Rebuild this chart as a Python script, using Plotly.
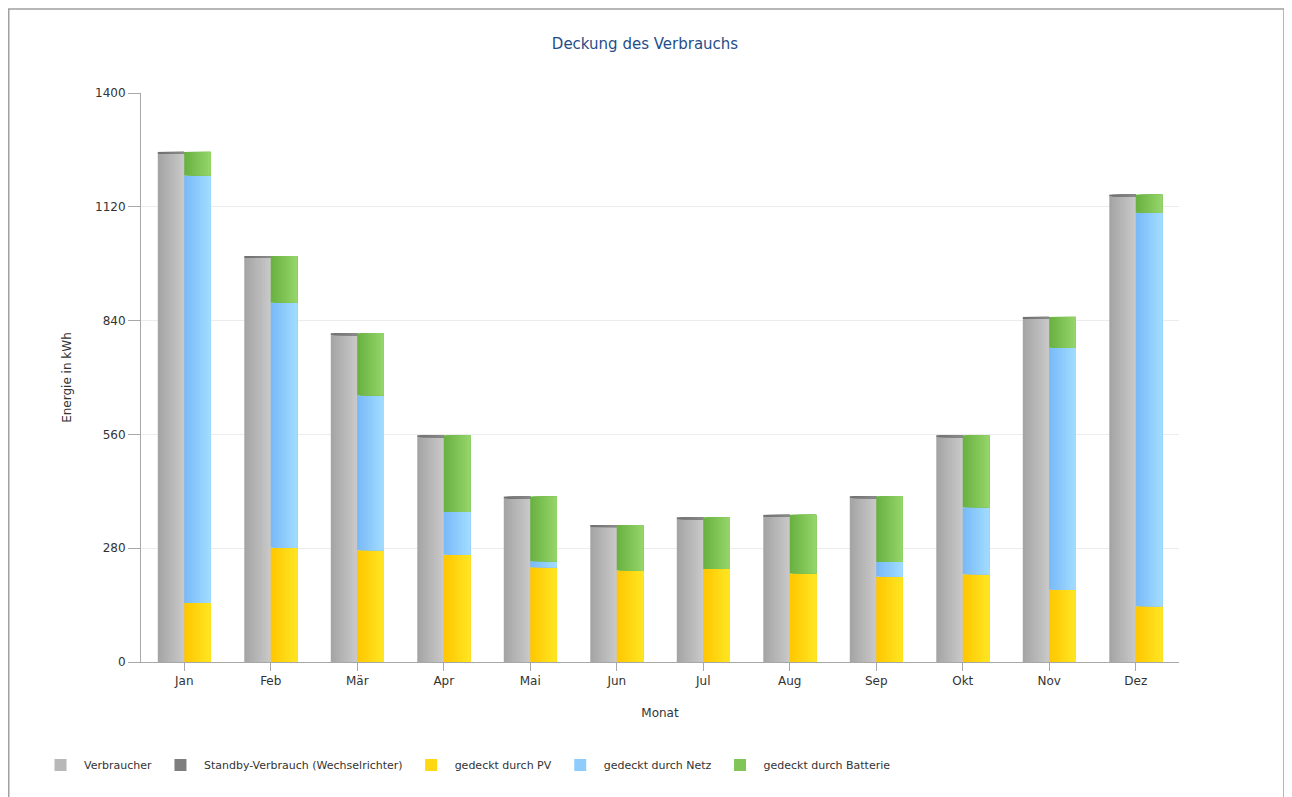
import plotly.graph_objects as go

months = ["Jan", "Feb", "Mär", "Apr", "Mai", "Jun", "Jul", "Aug", "Sep", "Okt", "Nov", "Dez"]
verbraucher = [1250, 994, 804, 553, 402, 332, 351, 357, 403, 553, 844, 1145]
standby = [5, 5, 5, 5, 5, 5, 5, 5, 5, 5, 5, 5]
pv = [145, 281, 275, 264, 233, 225, 229, 218, 210, 216, 178, 137]
netz = [1052, 603, 381, 105, 15, 0, 0, 0, 36, 165, 595, 968]
batterie = [58, 115, 153, 189, 159, 112, 127, 144, 162, 177, 76, 45]
y_ticks = [0, 280, 560, 840, 1120, 1400]

# page body adds an 8px offset, so the figure is laid out 8px up/left
OFF = 8
W, H = 1292 - OFF, 797 - OFF
L, T = 141 - OFF, 93 - OFF
R = W - (1179 - OFF)
B = H - (662 - OFF)
PW, PH = W - L - R, H - T - B
BAR_W = 0.306
N_STRIPS = 10


def mix(c1, c2, t):
    a = [int(c1[i:i + 2], 16) for i in (1, 3, 5)]
    b = [int(c2[i:i + 2], 16) for i in (1, 3, 5)]
    return "rgb(%d,%d,%d)" % tuple(round(a[k] + (b[k] - a[k]) * t) for k in range(3))


fig = go.Figure()

base_zero = [0] * len(months)
base_standby = verbraucher
base_netz = pv
base_batt = [p + n for p, n in zip(pv, netz)]

series = [
    # name, values, base, left offset, colour left, colour right, rank
    ("Verbraucher", verbraucher, base_zero, -BAR_W, "#a3a3a3", "#cacaca", 1),
    ("Standby-Verbrauch (Wechselrichter)", standby, base_standby, -BAR_W, "#6e6e6e", "#8c8c8c", 2),
    ("gedeckt durch PV", pv, base_zero, 0.0, "#ffc600", "#ffe623", 3),
    ("gedeckt durch Netz", netz, base_netz, 0.0, "#78b8f8", "#a2ddff", 4),
    ("gedeckt durch Batterie", batterie, base_batt, 0.0, "#68b040", "#96d66a", 5),
]

for name, vals, base, off0, c1, c2, rank in series:
    step = BAR_W / N_STRIPS
    for k in range(N_STRIPS):
        t = (k + 0.5) / N_STRIPS
        fig.add_trace(go.Bar(
            x=months,
            y=vals,
            base=base,
            offset=off0 + k * step,
            width=BAR_W - k * step,
            marker=dict(color=mix(c1, c2, t), line=dict(width=0)),
            name=name,
            legendgroup=name,
            showlegend=(k == N_STRIPS // 2),
            legendrank=rank,
            hoverinfo="skip" if k != 0 else "x+y+name",
        ))

axis_font = dict(family="DejaVu Sans", size=12, color="#333333")

fig.update_layout(
    width=W,
    height=H,
    barmode="overlay",
    plot_bgcolor="white",
    paper_bgcolor="white",
    margin=dict(l=L, r=R, t=T, b=B, autoexpand=False),
    font=dict(family="DejaVu Sans", size=12, color="#333333"),
    title=dict(
        text="Deckung des Verbrauchs",
        x=(645 - OFF) / W, xanchor="center", xref="container",
        y=1 - (44 - OFF) / H, yanchor="middle", yref="container",
        font=dict(family="DejaVu Sans", size=15, color="#1f4e89"),
    ),
    xaxis=dict(
        type="category",
        categoryorder="array",
        categoryarray=months,
        range=[-0.5, len(months) - 0.5],
        showline=True, linecolor="#a8a8a8", linewidth=1,
        ticks="outside", ticklen=8, tickcolor="#a8a8a8",
        tickfont=axis_font,
        showgrid=False,
        title=dict(text="Monat", font=axis_font, standoff=21),
    ),
    yaxis=dict(
        range=[0, 1400],
        tickvals=y_ticks,
        showline=True, linecolor="#a8a8a8", linewidth=1,
        ticks="outside", ticklen=12, tickcolor="#a8a8a8",
        tickfont=axis_font,
        showgrid=True, gridcolor="#ececec", gridwidth=1,
        zeroline=False,
        title=dict(text="Energie in kWh", font=axis_font, standoff=20),
    ),
    yaxis2=dict(
        range=[0, 1400],
        tickvals=y_ticks,
        overlaying="y", side="right",
        showline=True, linecolor="#a8a8a8", linewidth=1,
        ticks="outside", ticklen=12, tickcolor="#a8a8a8",
        tickfont=axis_font,
        showgrid=False, zeroline=False,
    ),
    legend=dict(
        orientation="h",
        x=(37 - L - OFF) / PW, xanchor="left",
        y=-(765 - 662) / PH, yanchor="middle",
        itemwidth=37,
        font=dict(family="DejaVu Sans", size=11, color="#333333"),
        traceorder="normal",
        itemclick=False, itemdoubleclick=False,
    ),
    shapes=[
        dict(
            type="rect", xref="paper", yref="paper",
            x0=(0.75 - L) / PW, x1=(1284 - OFF - L) / PW,
            y0=-(H + 20 - (H - B)) / PH, y1=1 + (T - 1) / PH,
            line=dict(color="#a0a0a0", width=1.5), fillcolor="rgba(0,0,0,0)",
            layer="below",
        )
    ],
)

fig.write_html("out.html")
